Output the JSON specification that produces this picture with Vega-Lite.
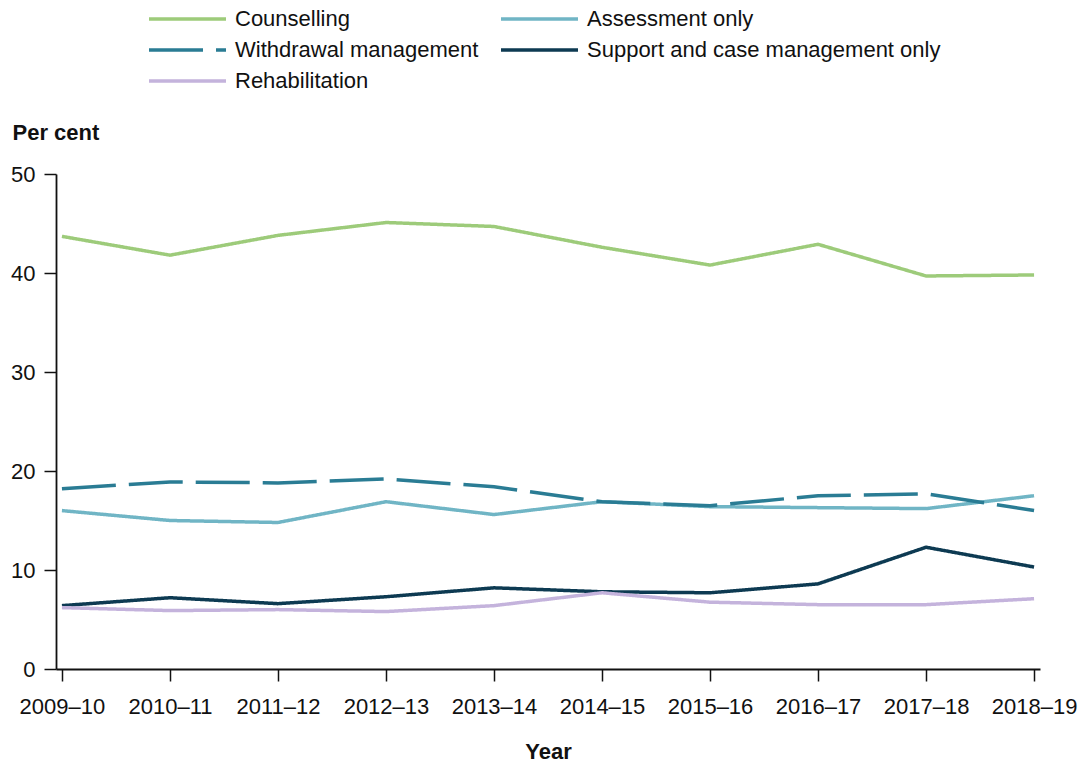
{
  "$schema": "https://vega.github.io/schema/vega-lite/v6.json",
  "autosize": "none",
  "width": 984,
  "height": 495,
  "padding": {"left": 56, "top": 174, "right": 38, "bottom": 93},
  "background": "white",
  "config": {
    "view": {"stroke": null},
    "font": "Liberation Sans"
  },
  "data": {
    "values": [
      {"year": "2009–10", "series": "Counselling", "value": 43.7},
      {"year": "2010–11", "series": "Counselling", "value": 41.8},
      {"year": "2011–12", "series": "Counselling", "value": 43.8},
      {"year": "2012–13", "series": "Counselling", "value": 45.1},
      {"year": "2013–14", "series": "Counselling", "value": 44.7},
      {"year": "2014–15", "series": "Counselling", "value": 42.6},
      {"year": "2015–16", "series": "Counselling", "value": 40.8},
      {"year": "2016–17", "series": "Counselling", "value": 42.9},
      {"year": "2017–18", "series": "Counselling", "value": 39.7},
      {"year": "2018–19", "series": "Counselling", "value": 39.8},
      {"year": "2009–10", "series": "Assessment only", "value": 16.0},
      {"year": "2010–11", "series": "Assessment only", "value": 15.0},
      {"year": "2011–12", "series": "Assessment only", "value": 14.8},
      {"year": "2012–13", "series": "Assessment only", "value": 16.9},
      {"year": "2013–14", "series": "Assessment only", "value": 15.6},
      {"year": "2014–15", "series": "Assessment only", "value": 16.9},
      {"year": "2015–16", "series": "Assessment only", "value": 16.4},
      {"year": "2016–17", "series": "Assessment only", "value": 16.3},
      {"year": "2017–18", "series": "Assessment only", "value": 16.2},
      {"year": "2018–19", "series": "Assessment only", "value": 17.5},
      {"year": "2009–10", "series": "Withdrawal management", "value": 18.2},
      {"year": "2010–11", "series": "Withdrawal management", "value": 18.9},
      {"year": "2011–12", "series": "Withdrawal management", "value": 18.8},
      {"year": "2012–13", "series": "Withdrawal management", "value": 19.2},
      {"year": "2013–14", "series": "Withdrawal management", "value": 18.4},
      {"year": "2014–15", "series": "Withdrawal management", "value": 16.9},
      {"year": "2015–16", "series": "Withdrawal management", "value": 16.5},
      {"year": "2016–17", "series": "Withdrawal management", "value": 17.5},
      {"year": "2017–18", "series": "Withdrawal management", "value": 17.7},
      {"year": "2018–19", "series": "Withdrawal management", "value": 16.0},
      {"year": "2009–10", "series": "Support and case management only", "value": 6.4},
      {"year": "2010–11", "series": "Support and case management only", "value": 7.2},
      {"year": "2011–12", "series": "Support and case management only", "value": 6.6},
      {"year": "2012–13", "series": "Support and case management only", "value": 7.3},
      {"year": "2013–14", "series": "Support and case management only", "value": 8.2},
      {"year": "2014–15", "series": "Support and case management only", "value": 7.8},
      {"year": "2015–16", "series": "Support and case management only", "value": 7.7},
      {"year": "2016–17", "series": "Support and case management only", "value": 8.6},
      {"year": "2017–18", "series": "Support and case management only", "value": 12.3},
      {"year": "2018–19", "series": "Support and case management only", "value": 10.3},
      {"year": "2009–10", "series": "Rehabilitation", "value": 6.2},
      {"year": "2010–11", "series": "Rehabilitation", "value": 5.9},
      {"year": "2011–12", "series": "Rehabilitation", "value": 6.0},
      {"year": "2012–13", "series": "Rehabilitation", "value": 5.8},
      {"year": "2013–14", "series": "Rehabilitation", "value": 6.4},
      {"year": "2014–15", "series": "Rehabilitation", "value": 7.7},
      {"year": "2015–16", "series": "Rehabilitation", "value": 6.75},
      {"year": "2016–17", "series": "Rehabilitation", "value": 6.5},
      {"year": "2017–18", "series": "Rehabilitation", "value": 6.5},
      {"year": "2018–19", "series": "Rehabilitation", "value": 7.1}
    ]
  },
  "mark": {"type": "line", "strokeWidth": 3.5},
  "encoding": {
    "x": {
      "field": "year",
      "type": "ordinal",
      "sort": null,
      "scale": {"type": "point", "padding": 0.055},
      "axis": {
        "title": "Year",
        "titleFontSize": 22,
        "titleFontWeight": "bold",
        "titleColor": "#111111",
        "titleBaseline": "alphabetic",
        "titleY": 89,
        "labelAngle": 0,
        "labelFontSize": 22,
        "labelColor": "#111111",
        "labelPadding": 15,
        "tickSize": 12,
        "tickWidth": 1.5,
        "tickColor": "#111111",
        "domainColor": "#111111",
        "domainWidth": 1.8,
        "grid": false
      }
    },
    "y": {
      "field": "value",
      "type": "quantitative",
      "scale": {"domain": [0, 50], "nice": false},
      "axis": {
        "title": "Per cent",
        "titleAngle": 0,
        "titleAlign": "left",
        "titleBaseline": "alphabetic",
        "titleX": -44,
        "titleY": -35,
        "titleFontSize": 22,
        "titleFontWeight": "bold",
        "titleColor": "#111111",
        "values": [0, 10, 20, 30, 40, 50],
        "labelFontSize": 22,
        "labelColor": "#111111",
        "labelPadding": 9,
        "tickSize": 12,
        "tickWidth": 1.5,
        "tickColor": "#111111",
        "domainColor": "#111111",
        "domainWidth": 1.8,
        "grid": false
      }
    },
    "color": {
      "field": "series",
      "type": "nominal",
      "scale": {
        "domain": ["Counselling", "Assessment only", "Withdrawal management", "Support and case management only", "Rehabilitation"],
        "range": ["#9dcb7a", "#70b5c5", "#2a7c94", "#0d3a52", "#c4b3dc"]
      },
      "legend": {
        "title": null,
        "orient": "none",
        "direction": "horizontal",
        "legendX": 91,
        "legendY": -166,
        "columns": 2,
        "columnPadding": 20,
        "rowPadding": 9,
        "clipHeight": 22,
        "padding": 0,
        "symbolType": "stroke",
        "symbolSize": 5929,
        "symbolStrokeWidth": 3.5,
        "symbolOffset": 0,
        "labelOffset": 7,
        "labelFontSize": 22,
        "labelColor": "#111111",
        "labelLimit": 600
      }
    },
    "strokeDash": {
      "field": "series",
      "type": "nominal",
      "scale": {
        "domain": ["Counselling", "Assessment only", "Withdrawal management", "Support and case management only", "Rehabilitation"],
        "range": [[1, 0], [1, 0], [54, 13], [1, 0], [1, 0]]
      },
      "legend": {
        "title": null,
        "orient": "none",
        "direction": "horizontal",
        "legendX": 91,
        "legendY": -166,
        "columns": 2,
        "columnPadding": 20,
        "rowPadding": 9,
        "clipHeight": 22,
        "padding": 0,
        "symbolType": "stroke",
        "symbolSize": 5929,
        "symbolStrokeWidth": 3.5,
        "symbolOffset": 0,
        "labelOffset": 7,
        "labelFontSize": 22,
        "labelColor": "#111111",
        "labelLimit": 600
      }
    }
  }
}
